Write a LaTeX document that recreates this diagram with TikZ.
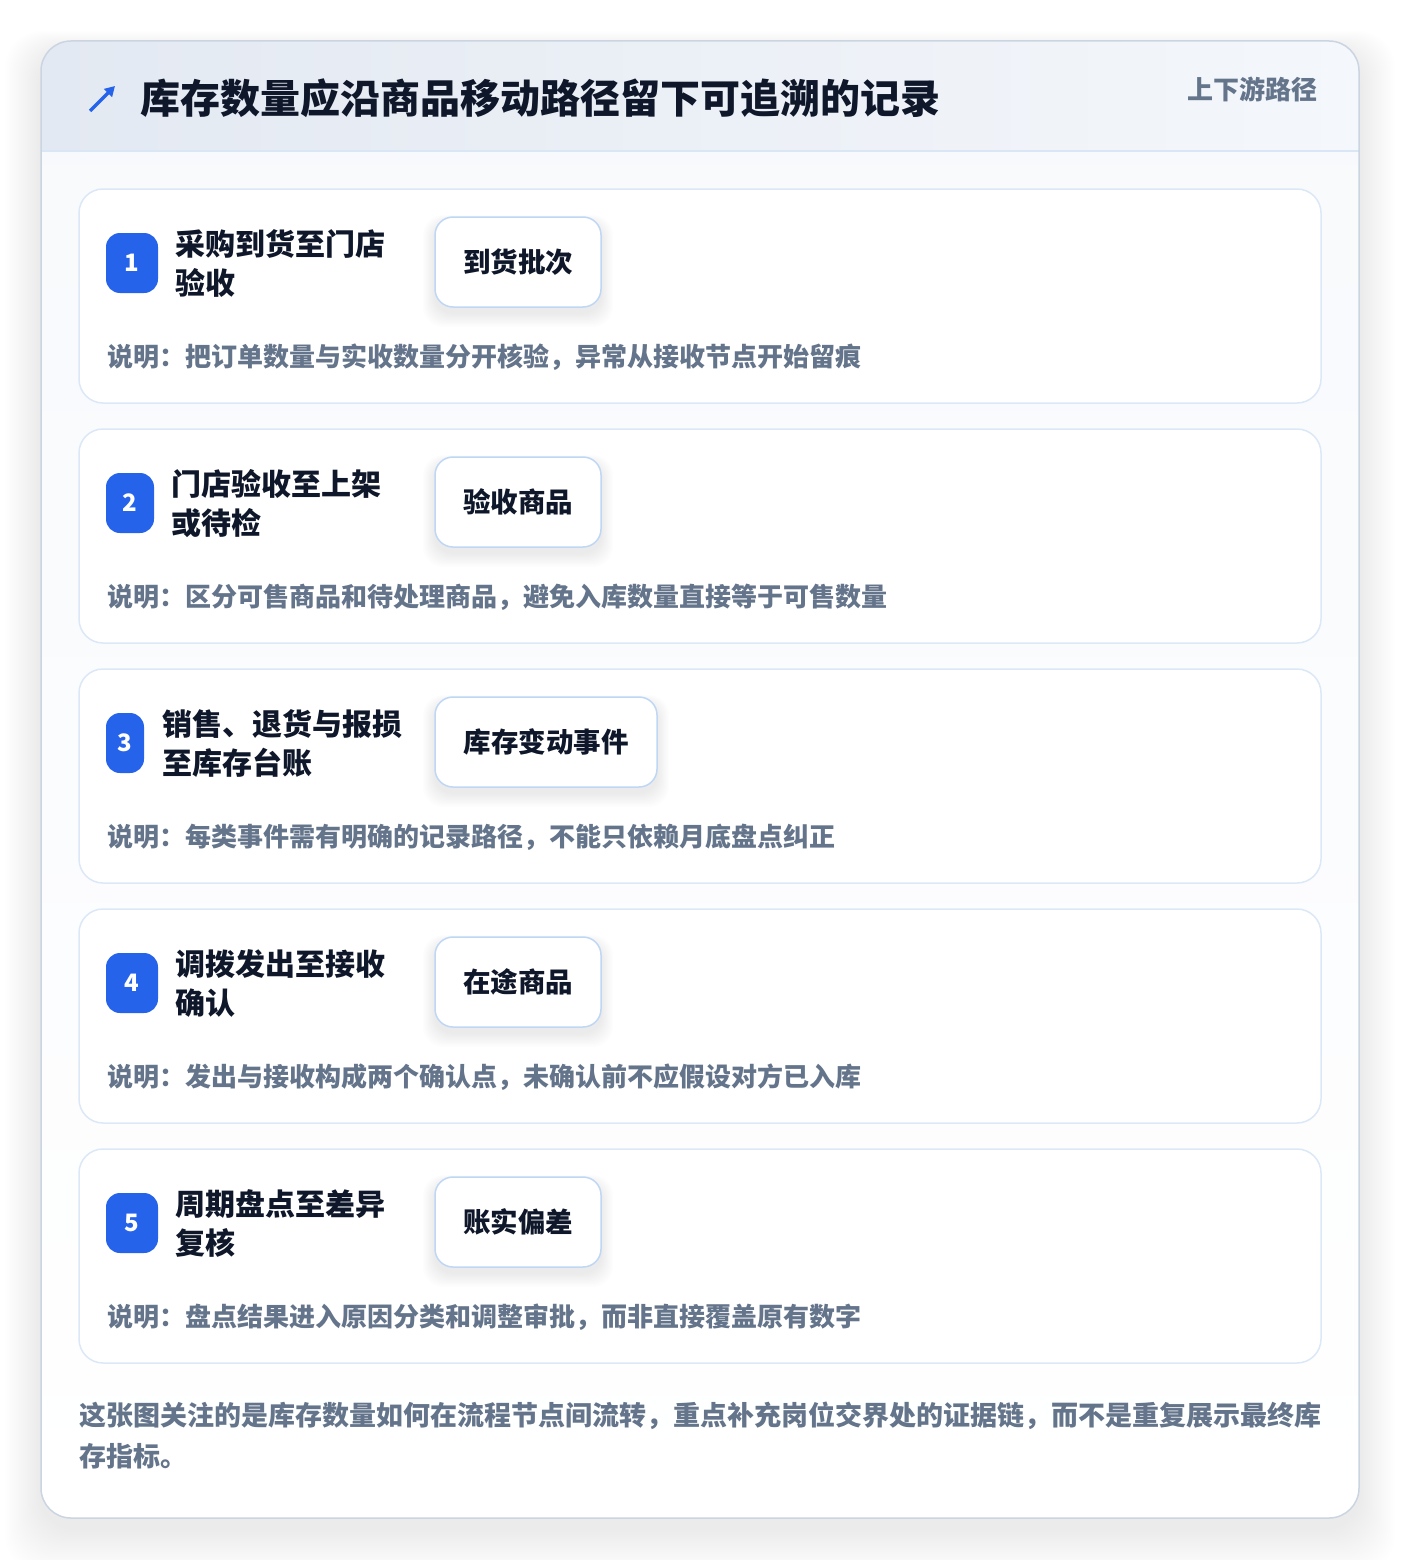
\documentclass[tikz,border=0pt]{standalone}
\usepackage{fontspec}
\setmainfont{Noto Sans CJK SC}
\usetikzlibrary{arrows.meta}
\definecolor{badgeblue}{HTML}{2563EB}
\definecolor{ink}{HTML}{0F172A}
\definecolor{muted}{HTML}{64748B}
\definecolor{cardline}{HTML}{DCE8F7}
\definecolor{tagline}{HTML}{BFD7F5}
\definecolor{outerline}{HTML}{CBD5E1}
\definecolor{headL}{HTML}{E3E9F2}
\definecolor{headR}{HTML}{F4F7FB}
\definecolor{headline}{HTML}{D9E6F6}
\definecolor{bodytop}{HTML}{F7F9FC}
\begin{document}
\begin{tikzpicture}[x=1pt,y=-1pt,
  stepcard/.style={draw=cardline, line width=1.5pt, fill=white, rounded corners=24pt, inner sep=0pt},
  badgebox/.style={fill=badgeblue, rounded corners=14pt, text=white, inner sep=0pt, font=\bfseries\fontsize{24}{24}\selectfont},
  tagbox/.style={draw=tagline, line width=1.5pt, fill=white, rounded corners=18pt, inner sep=0pt, text=ink, font=\bfseries\fontsize{27.5}{27.5}\selectfont},
  steptitle/.style={anchor=west, align=left, inner sep=0pt, text=ink, font=\bfseries\fontsize{30}{39}\selectfont},
  desctext/.style={anchor=west, inner sep=0pt, text=muted, font=\bfseries\fontsize{26}{26}\selectfont},
  foottext/.style={anchor=west, align=left, inner sep=0pt, text=muted, font=\bfseries\fontsize{27}{41}\selectfont}
]
\useasboundingbox (0,0) rectangle (1400,1560);
\fill[white] (0,0) rectangle (1400,1560);
% outer shadow
\foreach \i in {1,...,20}
  \fill[black, opacity=0.005, rounded corners=36pt] (41-\i*1.8,41-\i*1.0+10) rectangle (1359+\i*1.8,1518+\i*2.2+10);
% outer card body
\shade[top color=bodytop, bottom color=white, rounded corners=30pt] (41,41) rectangle (1359,1518);
\begin{scope}
  \clip[rounded corners=30pt] (41,41) rectangle (1359,1518);
  \shade[left color=headL, right color=headR] (41,41) rectangle (1359,151);
\end{scope}
\coordinate (hl) at (41,151);
\coordinate (hr) at (1359,151);
\draw[headline, line width=1.5pt] (hl) -- (hr);
\draw[outerline, line width=1.5pt, rounded corners=30pt] (41,41) rectangle (1359,1518);
% header
\coordinate (arrowtail) at (90,111);
\coordinate (arrowtip) at (115,86);
\draw[badgeblue, line width=3.5pt, -{Triangle[length=10pt,width=11pt]}] (arrowtail) -- (arrowtip);
\node[anchor=west, inner sep=0pt, text=ink, font=\bfseries\fontsize{40}{40}\selectfont] (title) at (140,98) {库存数量应沿商品移动路径留下可追溯的记录};
\node[anchor=east, inner sep=0pt, text=muted, font=\bfseries\fontsize{26}{26}\selectfont] (sub) at (1318,89.5) {上下游路径};
% steps
\foreach \n/\y/\bw/\tx/\la/\lb/\tg/\tw/\desc in {
  1/189/52/175/采购到货至门店/验收/到货批次/166/说明：把订单数量与实收数量分开核验，异常从接收节点开始留痕,
  2/429/48/171/门店验收至上架/或待检/验收商品/166/说明：区分可售商品和待处理商品，避免入库数量直接等于可售数量,
  3/669/38/162/销售、退货与报损/至库存台账/库存变动事件/222/说明：每类事件需有明确的记录路径，不能只依赖月底盘点纠正,
  4/909/52/175/调拨发出至接收/确认/在途商品/166/说明：发出与接收构成两个确认点，未确认前不应假设对方已入库,
  5/1149/52/175/周期盘点至差异/复核/账实偏差/166/说明：盘点结果进入原因分类和调整审批，而非直接覆盖原有数字}
{
  \node[stepcard, minimum width=1242pt, minimum height=214pt] (card\n) at (700,\y+107) {};
  \node[badgebox, minimum width=\bw pt, minimum height=60pt] (badge\n) at (106+\bw/2,\y+74) {\n};
  \node[steptitle] (st\n) at (\tx,\y+74.5) {\la\\\lb};
  \foreach \k in {1,...,10}
    \fill[black, opacity=0.007, rounded corners=20pt] (435-\k*1.2,\y+28-\k*0.8+6) rectangle (435+\tw+\k*1.2,\y+118+\k*1.4+6);
  \node[tagbox, minimum width=\tw pt, minimum height=90pt] (tag\n) at (435+\tw/2,\y+73) {\tg};
  \node[desctext] (desc\n) at (107,\y+168) {\desc};
}
% footer
\node[foottext] (foot) at (79,1435.5) {这张图关注的是库存数量如何在流程节点间流转，重点补充岗位交界处的证据链，而不是重复展示最终库\\存指标。};
\end{tikzpicture}
\end{document}
